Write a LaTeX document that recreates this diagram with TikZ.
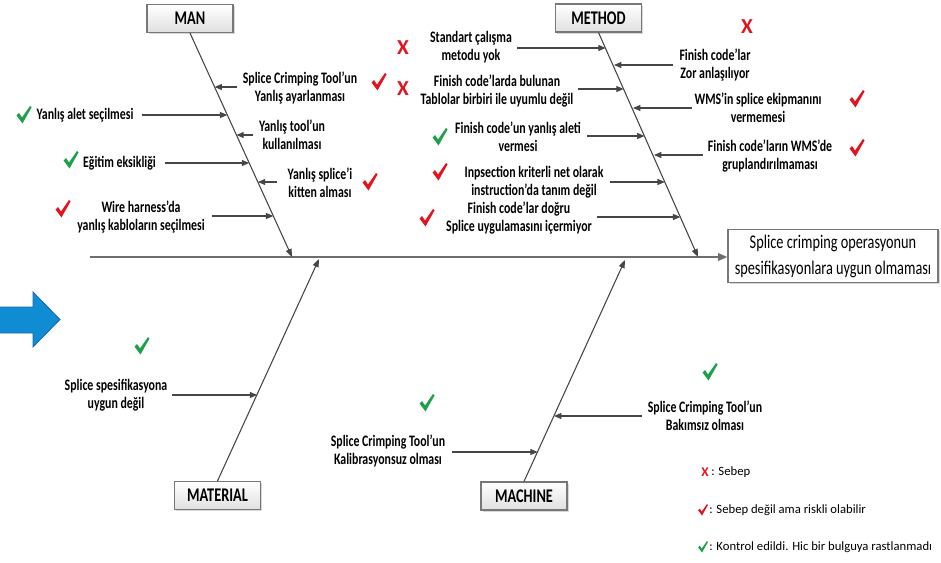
\documentclass[tikz,border=0pt]{standalone}
\usepackage{fontspec}
\setmainfont{Carlito}[FakeStretch=0.74]
\newfontfamily\legfont{Carlito}
\usetikzlibrary{arrows.meta,shadows}
\definecolor{redmk}{RGB}{226,20,30}
\definecolor{greenmk}{RGB}{30,160,75}
\definecolor{bonegray}{RGB}{70,70,70}
\definecolor{spinegray}{RGB}{110,110,110}
\definecolor{arrowblue}{RGB}{16,140,210}
\definecolor{arrowedge}{RGB}{25,105,175}
\definecolor{boxedge}{RGB}{120,120,120}
\tikzset{
  redchk/.pic={\fill[redmk] (-7.5,0.5) -- (-5,-2) -- (-2,2.5) -- (6,-9) -- (7.5,-7.5) -- (-1.5,8.5) -- cycle;},
  greenchk/.pic={\fill[greenmk] (-7.5,0.5) -- (-5,-2) -- (-2,2.5) -- (6,-9) -- (7.5,-7.5) -- (-1.5,8.5) -- cycle;},
}
\begin{document}
\begin{tikzpicture}[x=0.75pt,y=-0.75pt,
  catbox/.style={draw=boxedge, line width=0.8pt, top color=white, bottom color=black!12,
    minimum width=64.5pt, minimum height=21pt, inner sep=0pt,
    font=\fontsize{14.5}{16}\selectfont\bfseries,
    drop shadow={shadow xshift=1.2pt, shadow yshift=-1.2pt, fill=black!30}},
  headbox/.style={draw=boxedge, line width=0.8pt, fill=white, align=center,
    minimum width=157.5pt, minimum height=39.75pt, inner sep=0pt,
    font=\fontsize{14.5}{19.5}\selectfont,
    drop shadow={shadow xshift=1.2pt, shadow yshift=-1.2pt, fill=black!30}},
  cause/.style={align=center, inner sep=0pt, font=\fontsize{12}{13.5}\selectfont\bfseries},
  legtext/.style={inner sep=0pt, font=\legfont\fontsize{9.5}{11}\selectfont},
  redx/.style={inner sep=0pt, text=redmk, font=\legfont\fontsize{16}{16}\selectfont\bfseries},
  spine/.style={draw=spinegray, line width=1.6pt, -{Triangle[length=7pt,width=5.5pt]}},
  bone/.style={draw=bonegray, line width=0.8pt, -{Triangle[length=6pt,width=4.5pt]}},
  rib/.style={draw=bonegray, line width=0.8pt, -{Triangle[length=5.5pt,width=4.5pt]}}
]
\fill[white] (0,0) rectangle (941,563);
\useasboundingbox (0,0) rectangle (941,563);

% blue arrow
\filldraw[fill=arrowblue, draw=arrowedge, line width=0.6pt]
  (-2,307) -- (33,307) -- (33,292) -- (60,319.5) -- (33,347) -- (33,333) -- (-2,333) -- cycle;

% category boxes and head
\node[catbox] (man) at (190,18.5) {MAN};
\node[catbox] (method) at (598.5,18) {METHOD};
\node[catbox] (material) at (217.5,495.5) {MATERIAL};
\node[catbox] (machine) at (524,496) {MACHINE};
\node[headbox] (head) at (833,256) {Splice crimping operasyonun\\spesifikasyonlara uygun olmaması};

% spine and bones
\coordinate (spineL) at (90,257);
\coordinate (manEnd) at (292,257);
\coordinate (methodEnd) at (698,257);
\coordinate (matEnd) at (319,259);
\coordinate (macEnd) at (625,260);
\draw[spine] (spineL) -- (spineL -| head.west);
\draw[bone] (man.south) -- (manEnd);
\draw[bone] (method.south) -- (methodEnd);
\draw[bone] (material.north) -- (matEnd);
\draw[bone] (machine.north) -- (macEnd);

% MAN causes
\node[cause] (t1) at (300,88) {Splice Crimping Tool’un\\Yanlış ayarlanması};
\node[cause] (t2) at (85,115) {Yanlış alet seçilmesi};
\node[cause] (t3) at (292,135) {Yanlış tool’un\\kullanılması};
\node[cause] (t4) at (119.5,163) {Eğitim eksikliği};
\node[cause] (t5) at (320,183) {Yanlış splice’i\\kitten alması};
\node[cause] (t6) at (141,217) {Wire harness’da\\yanlış kabloların seçilmesi};
\coordinate (ta1) at (237,87);   \coordinate (tb1) at (214.6,87);
\coordinate (ta2) at (142,115);  \coordinate (tb2) at (227.3,115);
\coordinate (ta3) at (253,135);  \coordinate (tb3) at (236.4,135);
\coordinate (ta4) at (165,163);  \coordinate (tb4) at (249.2,163);
\coordinate (ta5) at (277,182);  \coordinate (tb5) at (257.9,182);
\coordinate (ta6) at (212,216);  \coordinate (tb6) at (273.3,216);
\foreach \i in {1,...,6} {\draw[rib] (ta\i) -- (tb\i);}

% METHOD causes
\node[cause] (m1) at (471,47.5) {Standart çalışma\\metodu yok};
\node[cause] (m2) at (715,65) {Finish code’lar\\Zor anlaşılıyor};
\node[cause] (m3) at (497,91) {Finish code’larda bulunan\\Tablolar birbiri ile uyumlu değil};
\node[cause] (m4) at (758,107.5) {WMS’in splice ekipmanını\\vermemesi};
\node[cause] (m5) at (518,136.5) {Finish code’un yanlış aleti\\vermesi};
\node[cause] (m6) at (770,156) {Finish code’ların WMS’de\\gruplandırılmaması};
\node[cause] (m7) at (534,182) {Inpsection kriterli net olarak\\instruction’da tanım değil};
\node[cause] (m8) at (519,218) {Finish code’lar doğru\\Splice uygulamasını içermiyor};
\coordinate (ma1) at (517,48);   \coordinate (mb1) at (605.6,48);
\coordinate (ma2) at (673,65);   \coordinate (mb2) at (614,65);
\coordinate (ma3) at (578,89);   \coordinate (mb3) at (623.7,89);
\coordinate (ma4) at (692,108);  \coordinate (mb4) at (633,108);
\coordinate (ma5) at (587,136);  \coordinate (mb5) at (644.5,136);
\coordinate (ma6) at (703,155);  \coordinate (mb6) at (654,155);
\coordinate (ma7) at (610,182);  \coordinate (mb7) at (664.8,182);
\coordinate (ma8) at (597,217);  \coordinate (mb8) at (680.3,217);
\foreach \i in {1,...,8} {\draw[rib] (ma\i) -- (mb\i);}

% MATERIAL cause
\node[cause] (p1) at (116,395.5) {Splice spesifikasyona\\uygun değil};
\coordinate (pa1) at (172,395); \coordinate (pb1) at (257.1,395);
\draw[rib] (pa1) -- (pb1);

% MACHINE causes
\node[cause] (c1) at (388,451) {Splice Crimping Tool’un\\Kalibrasyonsuz olması};
\node[cause] (c2) at (705,415.5) {Splice Crimping Tool’un\\Bakımsız olması};
\coordinate (ca1) at (452,452); \coordinate (cb1) at (537.7,452);
\coordinate (ca2) at (642,416); \coordinate (cb2) at (554,416);
\draw[rib] (ca1) -- (cb1);
\draw[rib] (ca2) -- (cb2);

% marks
\pic (k1) at (379,82) {redchk};
\pic (k2) at (24,115) {greenchk};
\pic (k3) at (71,160) {greenchk};
\pic (k4) at (370,182) {redchk};
\pic (k5) at (63,209) {redchk};
\node[redx] (x1) at (403,48) {X};
\node[redx] (x2) at (403,89) {X};
\node[redx] (x3) at (747,27) {X};
\pic (k6) at (857,99) {redchk};
\pic (k7) at (440,137) {greenchk};
\pic (k8) at (857,148) {redchk};
\pic (k9) at (440,172) {redchk};
\pic (k10) at (427,218) {redchk};
\pic (k11) at (142,346) {greenchk};
\pic (k12) at (427,403) {greenchk};
\pic (k13) at (710,372) {greenchk};

% legend
\node[redx, font=\legfont\fontsize{10}{10}\selectfont\bfseries] (lx) at (705,472) {X};
\node[legtext, anchor=west] (l1) at (711,472) {: Sebep};
\pic[scale=0.65] (lc1) at (703,510) {redchk};
\node[legtext, anchor=west] (l2) at (709,510) {: Sebep değil ama riskli olabilir};
\pic[scale=0.65] (lc2) at (703,547) {greenchk};
\node[legtext, anchor=west] (l3) at (709,547) {: Kontrol edildi. Hic bir bulguya rastlanmadı};
\end{tikzpicture}
\end{document}
